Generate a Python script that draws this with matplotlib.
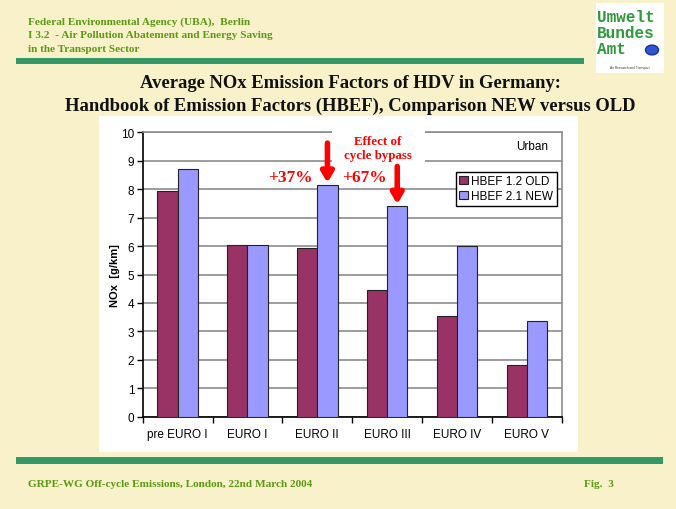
import matplotlib.pyplot as plt
import numpy as np
from matplotlib.patches import Rectangle, Circle

categories = ["pre EURO I", "EURO I", "EURO II", "EURO III", "EURO IV", "EURO V"]
hbef_old = [7.93, 6.02, 5.93, 4.44, 3.55, 1.83]
hbef_new = [8.72, 6.02, 8.15, 7.42, 6.00, 3.35]
y_ticks = list(range(0, 11))

CREAM = "#F9F1C9"
GREEN_BAR = "#339966"
GREEN_TEXT = "#5A9A14"
OLD_COLOR = "#993366"
NEW_COLOR = "#9999FF"
SERIF = ["Liberation Serif", "DejaVu Serif"]
SANS = ["Liberation Sans", "DejaVu Sans"]

W, H = 676, 510


def px_rect(fig, x0, y0, x1, y1, **kw):
    fig.patches.append(Rectangle((x0 / W, 1 - y1 / H), (x1 - x0) / W, (y1 - y0) / H,
                                 transform=fig.transFigure, zorder=-1, **kw))


def px_text(fig, x, y, s, **kw):
    fig.text(x / W, 1 - y / H, s, **kw)


fig = plt.figure(figsize=(6.76, 5.10), dpi=100)
fig.patch.set_facecolor(CREAM)

# header / footer
px_rect(fig, 16, 59, 584, 65, facecolor=GREEN_BAR, edgecolor="none")
px_rect(fig, 16, 458, 663, 465, facecolor=GREEN_BAR, edgecolor="none")
header = ["Federal Environmental Agency (UBA),  Berlin",
          "I 3.2  - Air Pollution Abatement and Energy Saving",
          "in the Transport Sector"]
for i, line in enumerate(header):
    px_text(fig, 28, 22.5 + i * 13.3, line, family=SERIF, weight="bold",
            fontsize=8.1, color=GREEN_TEXT, va="center", ha="left")
px_text(fig, 28, 485, "GRPE-WG Off-cycle Emissions, London, 22nd March 2004",
        family=SERIF, weight="bold", fontsize=8.1, color=GREEN_TEXT, va="center")
px_text(fig, 584, 485, "Fig.  3", family=SERIF, weight="bold", fontsize=8.1,
        color=GREEN_TEXT, va="center")

# logo
px_rect(fig, 596, 4, 664, 74, facecolor="white", edgecolor="none")
for i, word in enumerate(["Umwelt", "Bundes", "Amt"]):
    px_text(fig, 597, 17 + i * 16, word, family=["Liberation Mono", "DejaVu Sans Mono"],
            weight="bold", fontsize=11.5, color="#2E9A3A", va="center")
fig.patches.append(Circle((652 / W, 1 - 51 / H), 6.5 / W, transform=fig.transFigure,
                          facecolor="#3355CC", edgecolor="#1133AA"))
px_text(fig, 630, 68, "Air Research and Transport", family=SANS, fontsize=2.3,
        color="#333333", va="center", ha="center")

# title
px_text(fig, 350, 84, "Average NOx Emission Factors of HDV in Germany:",
        family=SERIF, weight="bold", fontsize=13.4, color="#111111", ha="center", va="center")
px_text(fig, 350, 106, "Handbook of Emission Factors (HBEF), Comparison NEW versus OLD",
        family=SERIF, weight="bold", fontsize=13.4, color="#111111", ha="center", va="center")

# white chart area
px_rect(fig, 99, 117, 578, 453, facecolor="white", edgecolor="none")

ax = fig.add_axes([142.7 / W, 1 - 417.7 / H, (561.7 - 142.7) / W, (417.7 - 133.3) / H])
ax.set_facecolor("white")

x = np.arange(len(categories))
width = 0.29
ax.bar(x - width / 2, hbef_old, width, color=OLD_COLOR, edgecolor="#222222",
       linewidth=0.8, label="HBEF 1.2 OLD", zorder=3)
ax.bar(x + width / 2, hbef_new, width, color=NEW_COLOR, edgecolor="#222222",
       linewidth=0.8, label="HBEF 2.1 NEW", zorder=3)

ax.set_xlim(-0.5, len(categories) - 0.5)
ax.set_ylim(0, 10)
ax.set_yticks(y_ticks)
ax.set_yticklabels([str(t) for t in y_ticks], family=SANS, fontsize=8.5)
ax.yaxis.grid(True, color="#8C8C8C", linewidth=1.2, zorder=0)

ax.set_xticks(np.arange(-0.5, len(categories), 1.0))
ax.set_xticklabels([])
ax.set_xticks(x, minor=True)
ax.set_xticklabels(categories, minor=True, family=SANS, fontsize=8.5)
ax.tick_params(axis="x", which="minor", length=0, pad=8)
ax.tick_params(axis="x", which="major", length=4, width=1, direction="out")
ax.tick_params(axis="y", length=4, width=1, direction="out", pad=2)

for side in ["top", "right"]:
    ax.spines[side].set_color("#8C8C8C")
    ax.spines[side].set_linewidth(1.2)
for side in ["left", "bottom"]:
    ax.spines[side].set_color("black")
    ax.spines[side].set_linewidth(1.2)

ax.set_ylabel("NOx  [g/km]", family=SANS, fontsize=8, weight="bold", labelpad=0.5)

ax.text(5.08, 9.53, "Urban", family=SANS, fontsize=8.5, ha="center", va="center")

leg = ax.legend(loc="upper right", bbox_to_anchor=(0.988, 0.862), frameon=True,
                fancybox=False, framealpha=1, edgecolor="black", borderpad=0.3,
                handlelength=0.7, handleheight=0.7, handletextpad=0.3,
                labelspacing=0.25, borderaxespad=0, prop={"family": SANS, "size": 8.5})
leg.get_frame().set_linewidth(1.0)
leg.set_zorder(5)

# annotations
ax.text(2.87, 9.45, "Effect of\ncycle bypass", family=SERIF, weight="bold", fontsize=9.3,
        color="red", ha="center", va="center", linespacing=1.25, zorder=6,
        bbox=dict(facecolor="white", edgecolor="none", pad=9))
ax.text(1.62, 8.43, "+37%", family=SERIF, weight="bold", fontsize=12.5, color="red",
        ha="center", va="center", zorder=6)
ax.text(2.67, 8.43, "+67%", family=SERIF, weight="bold", fontsize=12.5, color="red",
        ha="center", va="center", zorder=6)

arrow_style = dict(arrowstyle="-|>,head_width=0.35,head_length=0.6", color="red",
                   lw=4, shrinkA=0, shrinkB=0)
ax.annotate("", xy=(2 + width / 2, 8.22), xytext=(2 + width / 2, 9.62),
            arrowprops=arrow_style, zorder=7)
ax.annotate("", xy=(3 + width / 2, 7.47), xytext=(3 + width / 2, 8.8),
            arrowprops=arrow_style, zorder=7)

fig.savefig("out.png", dpi=100, facecolor=fig.get_facecolor())
